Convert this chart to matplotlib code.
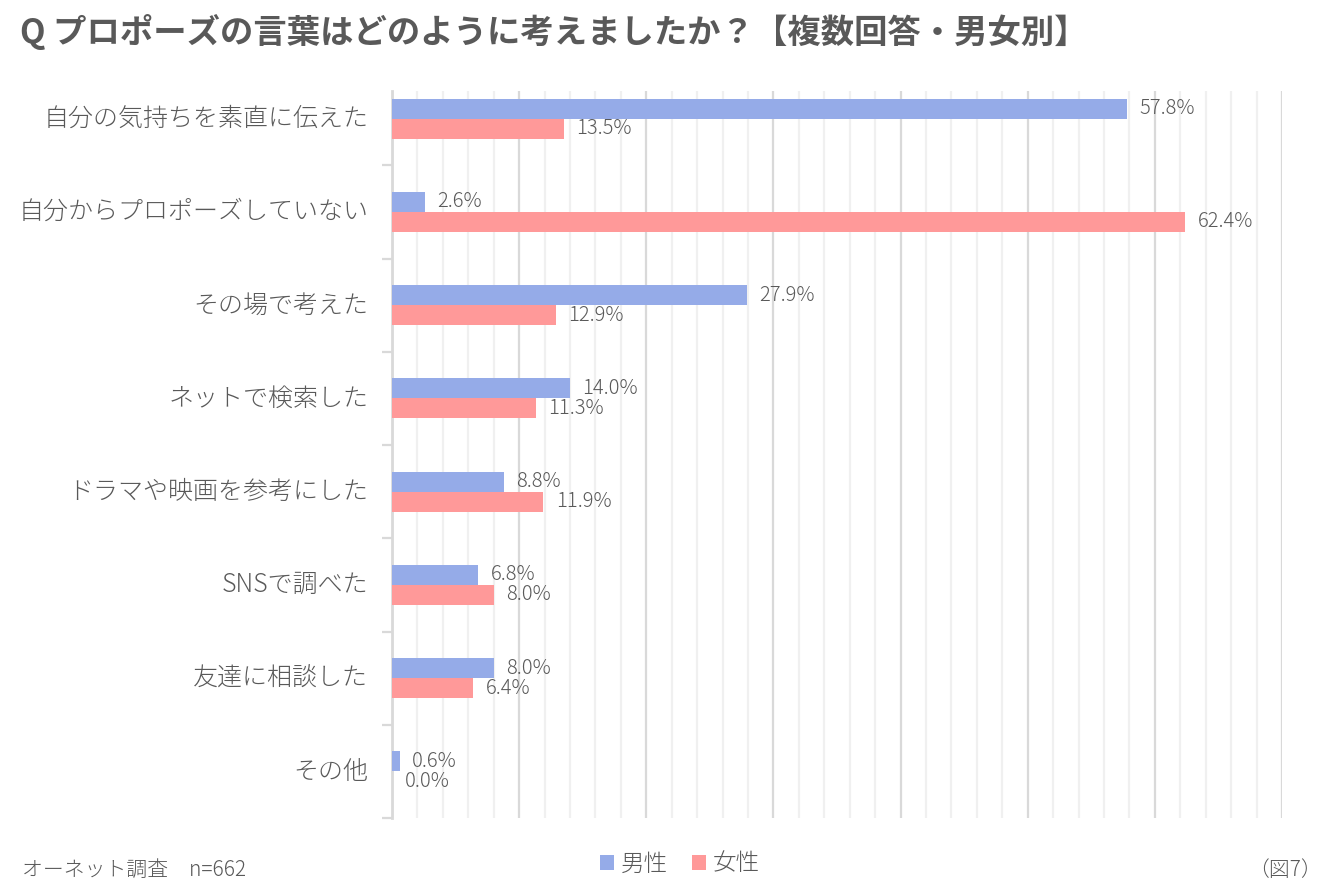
import matplotlib
matplotlib.use("Agg")
import matplotlib.pyplot as plt
import matplotlib.transforms as mtransforms
import numpy as np
from matplotlib.ticker import MultipleLocator, FixedLocator

plt.rcParams['font.family'] = ['Noto Sans CJK JP', 'DejaVu Sans']

# データ
categories = ['自分の気持ちを素直に伝えた', '自分からプロポーズしていない', 'その場で考えた',
              'ネットで検索した', 'ドラマや映画を参考にした', 'SNSで調べた', '友達に相談した', 'その他']
male = [57.8, 2.6, 27.9, 14.0, 8.8, 6.8, 8.0, 0.6]
female = [13.5, 62.4, 12.9, 11.3, 11.9, 8.0, 6.4, 0.0]
series_names = ['男性', '女性']

c_male = '#95ABE8'
c_female = '#FF9999'
c_text = '#595959'

fig = plt.figure(figsize=(13.39, 8.93), dpi=100)
ax = fig.add_axes([392/1339, 1-818/893, (1282-392)/1339, (818-91)/893])

y = np.arange(len(categories))
h = 0.215
b1 = ax.barh(y - h/2, male, height=h, color=c_male, label=series_names[0], zorder=3)
b2 = ax.barh(y + h/2, female, height=h, color=c_female, label=series_names[1], zorder=3)

# 数値ラベル
for bars, vals in ((b1, male), (b2, female)):
    for r, v in zip(bars, vals):
        ax.annotate(f'{v:.1f}%', (r.get_width(), r.get_y() + r.get_height()/2),
                    xytext=(9, 0), textcoords='offset points', ha='left', va='center',
                    fontsize=14.5, color=c_text, fontweight='light')

ax.set_xlim(0, 70)
ax.set_ylim(7.5, -0.5 + 19/93.3)

# 目盛線
ax.xaxis.set_major_locator(MultipleLocator(10))
ax.xaxis.set_minor_locator(MultipleLocator(2))
ax.grid(axis='x', which='minor', color='#F0F0F0', linewidth=1.6, zorder=0)
ax.grid(axis='x', which='major', color='#D9D9D9', linewidth=1.6, zorder=1)
ax.tick_params(axis='x', which='both', length=0, labelbottom=False)

ax.set_yticks(y)
ax.set_yticklabels(categories, fontsize=18, color=c_text, fontweight='light')
ax.yaxis.set_minor_locator(FixedLocator(np.arange(0.5, 8, 1)))
ax.tick_params(axis='y', which='major', length=0, pad=17)
ax.tick_params(axis='y', which='minor', length=7, width=1.6, color='#D9D9D9')
# ラベルを少し上へ
shift = mtransforms.ScaledTranslation(0, 3/100, fig.dpi_scale_trans)
for lab in ax.get_yticklabels():
    lab.set_transform(lab.get_transform() + shift)

for s in ('top', 'right', 'bottom'):
    ax.spines[s].set_visible(False)
ax.spines['left'].set_color('#D9D9D9')
ax.spines['left'].set_linewidth(2)

# タイトル・注記
fig.text(20/1339, 1-32/893, 'Q プロポーズの言葉はどのように考えましたか？【複数回答・男女別】',
         fontsize=24, fontweight='bold', color=c_text, ha='left', va='center')
fig.text(22/1339, 1-870/893, 'オーネット調査\u3000n=662', fontsize=15, color=c_text,
         ha='left', va='center', fontweight='light')
fig.text(1322/1339, 1-870/893, '（図7）', fontsize=15, color=c_text, ha='right', va='center',
         fontweight='light')

fig.legend(handles=[b1, b2], loc='center', bbox_to_anchor=(680/1339, 1-864/893), ncol=2,
           frameon=False, prop={'size': 17, 'weight': 'light'}, labelcolor=c_text,
           handlelength=0.6, handleheight=0.6, handletextpad=0.3, columnspacing=1.0)

fig.savefig('out.png', dpi=100)
